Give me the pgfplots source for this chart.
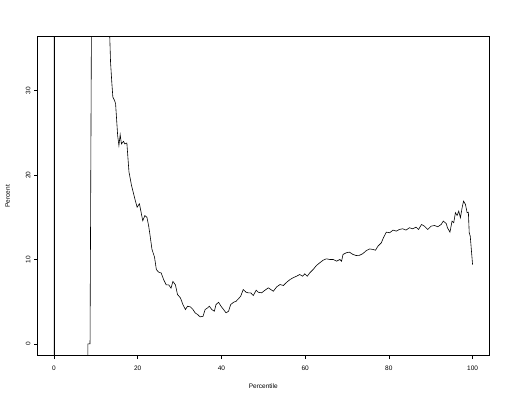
\documentclass[border=0pt]{standalone}
\usepackage{pgfplots}
\pgfplotsset{compat=1.18}
\usepackage{fontspec}
\setmainfont{Liberation Sans}
\begin{document}
\begin{tikzpicture}
  \path[use as bounding box] (-37.3pt,-46.3pt) rectangle (471.7pt,355.7pt);
  \begin{axis}[at={(0,0)}, anchor=south west,
               scale only axis,
               width=452pt, height=319pt,
               xmin=-4, xmax=104,
               ymin=-1.4, ymax=36.4,
               xtick={0,20,40,60,80,100},
               ytick={0,10,20,30},
               tick align=outside,
               major tick length=3.3pt,
               tick style={black, line width=0.5pt},
               xtick pos=bottom, ytick pos=left,
               axis line style={black, line width=0.5pt},
               font=\fontsize{6.5}{7}\selectfont,
               /pgf/number format/assume math mode=true,
               xticklabel style={yshift=-3pt},
               yticklabel style={rotate=90, anchor=south},
               xlabel={Percentile},
               ylabel={Percent},
               xlabel style={yshift=-7pt},
               ylabel style={yshift=9pt},
               clip=true]
    \addplot [black, line width=0.6pt] coordinates {
      (0.0,60)(0.05,-10)(8.1,-10)(8.1,0)(8.6,0)(9.0,45)(13.2,40)
      (13.3,36.6)(13.5,33.4)(13.8,31.0)(14.05,29.25)(14.4,28.9)(14.7,28.5)
      (15.2,24.7)(15.5,23.5)(15.8,24.8)(16.1,23.7)(16.6,24.0)(16.9,23.7)
      (17.4,23.8)(17.9,20.4)(18.5,18.8)(19.3,17.2)(19.85,16.2)(20.4,16.6)
      (20.8,15.6)(21.2,14.6)(21.7,15.2)(22.2,15.0)(22.6,14.0)(22.9,13.0)
      (23.4,11.2)(24.0,10.3)(24.45,8.8)(25.0,8.5)(25.6,8.4)(26.2,7.6)
      (26.8,7.0)(27.4,7.0)(27.95,6.6)(28.4,7.4)(29.0,7.0)(29.5,5.85)
      (30.2,5.45)(30.8,4.65)(31.4,4.07)(31.9,4.46)(32.55,4.39)(33.2,4.07)
      (33.7,3.68)(34.3,3.48)(34.9,3.2)(35.6,3.27)(36.1,4.07)(36.7,4.27)
      (37.1,4.46)(37.7,4.07)(38.3,3.87)(38.7,4.66)(39.3,4.93)(39.9,4.46)
      (40.5,4.07)(41.1,3.68)(41.7,3.87)(42.2,4.66)(42.9,4.93)(43.5,5.05)
      (44.05,5.34)(44.6,5.65)(45.2,6.44)(45.9,6.12)(46.4,6.05)(47.0,6.05)
      (47.6,5.73)(48.3,6.36)(48.8,6.12)(49.6,6.05)(50.4,6.36)(51.2,6.64)
      (51.8,6.44)(52.4,6.24)(53.2,6.76)(54.0,7.03)(54.8,6.92)(55.6,7.31)
      (56.4,7.63)(57.1,7.83)(57.95,8.02)(58.7,8.22)(59.4,8.02)(59.9,8.3)
      (60.5,8.02)(61.1,8.42)(61.9,8.81)(62.7,9.29)(63.5,9.61)(64.3,9.92)
      (65.1,10.08)(65.9,10.0)(66.7,10.0)(67.5,9.8)(68.3,10.0)(68.7,9.8)
      (69.05,10.6)(69.85,10.8)(70.6,10.87)(71.4,10.6)(72.2,10.47)(73.0,10.5)
      (73.8,10.7)(74.6,11.05)(75.4,11.25)(76.2,11.19)(76.8,11.1)(77.4,11.58)
      (78.2,11.98)(78.7,12.57)(79.4,13.24)(80.2,13.17)(81.0,13.48)(81.8,13.36)
      (82.5,13.56)(83.3,13.64)(84.1,13.48)(84.9,13.76)(85.7,13.64)(86.5,13.83)
      (87.1,13.56)(87.8,14.15)(88.5,13.95)(89.3,13.56)(90.1,13.95)(90.9,14.03)
      (91.7,13.88)(92.5,14.15)(93.0,14.55)(93.7,14.27)(94.0,13.76)(94.6,13.24)
      (95.1,14.55)(95.5,14.35)(95.9,15.54)(96.3,15.22)(96.7,15.73)(97.1,14.95)
      (97.5,16.13)(97.85,16.92)(98.3,16.52)(98.7,15.54)(99.0,15.6)(99.2,13.17)
      (99.45,12.76)(100,9.4)
    };
    % the spike at 0 is drawn twice in the original, so it looks heavier
    \addplot [black, line width=1pt] coordinates {(0.05,-10)(0.05,60)};
  \end{axis}
\end{tikzpicture}
\end{document}
